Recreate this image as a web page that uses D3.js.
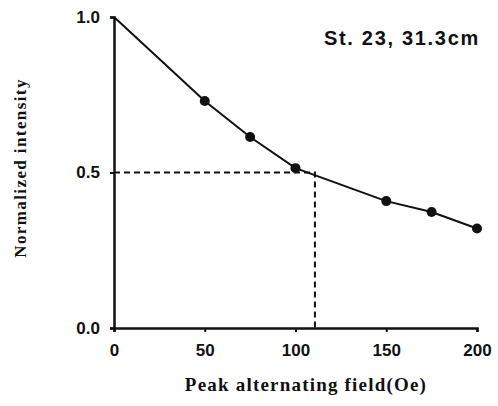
<!DOCTYPE html>
<html>
<head>
<meta charset="utf-8">
<script src="https://cdn.jsdelivr.net/npm/d3@7"></script>
<style>
  body { margin: 0; background: #fff; }
  text { font-weight: bold; fill: #111; }
  .serif { font-family: "Liberation Serif", "DejaVu Serif", serif; }
  .sans { font-family: "Liberation Sans", Arial, sans-serif; }
</style>
</head>
<body>
<svg width="498" height="406"></svg>
<script>
// measured points (first point is the normalisation origin, no marker)
const fields = [0, 50, 75, 100, 150, 175, 200];
const intensity = [1.0, 0.73, 0.614, 0.514, 0.408, 0.373, 0.32];
const markerFields = [50, 75, 100, 150, 175, 200];
const xTicks = [0, 50, 100, 150, 200];
const yTicks = [0.0, 0.5, 1.0];
const halfField = 110.7;

const svg = d3.select('svg');

const x = d3.scaleLinear().domain([0, 200]).range([114, 477]);
const y = d3.scaleLinear().domain([0, 1]).range([328, 17]);

const points = fields.map((f, i) => ({ f, v: intensity[i] }));

// axes
svg.append('g')
  .attr('transform', `translate(0,${y(0)})`)
  .call(d3.axisBottom(x).tickValues(xTicks).tickSize(4).tickPadding(12).tickFormat(d3.format('d')))
  .call(g => g.select('.domain').attr('stroke-width', 2.5).attr('stroke', '#111'))
  .call(g => g.selectAll('.tick line').attr('stroke-width', 2).attr('stroke', '#111'))
  .call(g => g.selectAll('text').attr('class', 'sans').style('font-size', '17px').attr('fill', '#111'));

svg.append('g')
  .attr('transform', `translate(${x(0)},0)`)
  .call(d3.axisLeft(y).tickValues(yTicks).tickSize(4).tickPadding(10).tickFormat(d3.format('.1f')))
  .call(g => g.select('.domain').attr('stroke-width', 2.5).attr('stroke', '#111'))
  .call(g => g.selectAll('.tick line').attr('stroke-width', 2).attr('stroke', '#111'))
  .call(g => g.selectAll('text').attr('class', 'sans').style('font-size', '17px').attr('fill', '#111'));

// half-intensity guide
svg.append('path')
  .attr('d', `M${x(0)},${y(0.5)}H${x(halfField)}V${y(0)}`)
  .attr('fill', 'none')
  .attr('stroke', '#111')
  .attr('stroke-width', 2)
  .attr('stroke-dasharray', '6,4');

// decay curve
const line = d3.line().x(d => x(d.f)).y(d => y(d.v));
svg.append('path')
  .datum(points)
  .attr('d', line)
  .attr('fill', 'none')
  .attr('stroke', '#111')
  .attr('stroke-width', 2);

svg.selectAll('circle')
  .data(points.filter(d => markerFields.includes(d.f)))
  .enter().append('circle')
    .attr('cx', d => x(d.f))
    .attr('cy', d => y(d.v))
    .attr('r', 5)
    .attr('fill', '#111');

svg.append('text')
  .attr('class', 'sans')
  .attr('x', 480).attr('y', 45)
  .attr('text-anchor', 'end')
  .style('font-size', '20px')
  .style('letter-spacing', '1.7px')
  .text('St. 23, 31.3cm');

svg.append('text')
  .attr('class', 'serif')
  .attr('x', 306).attr('y', 391)
  .attr('text-anchor', 'middle')
  .style('font-size', '19px')
  .style('letter-spacing', '1.2px')
  .text('Peak alternating field(Oe)');

svg.append('text')
  .attr('class', 'serif')
  .attr('transform', 'translate(26,168) rotate(-90)')
  .attr('text-anchor', 'middle')
  .style('font-size', '17px')
  .style('letter-spacing', '1.4px')
  .text('Normalized intensity');
</script>
</body>
</html>
